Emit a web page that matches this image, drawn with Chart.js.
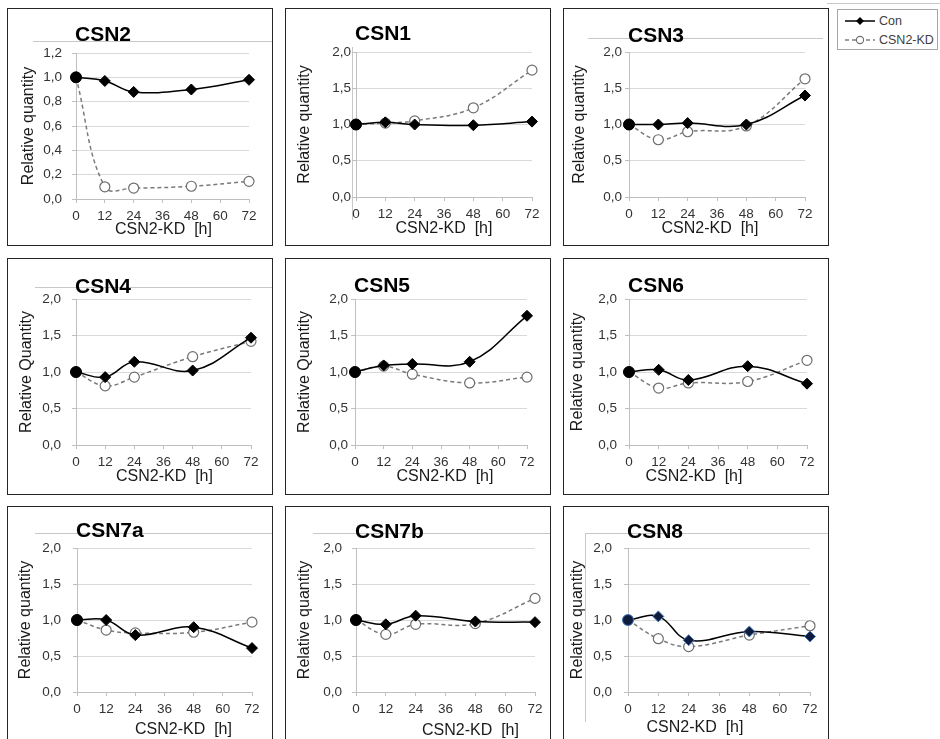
<!DOCTYPE html>
<html>
<head>
<meta charset="utf-8">
<script src="https://cdn.jsdelivr.net/npm/chart.js@4.4.1/dist/chart.umd.min.js"></script>
<style>
  html, body { margin: 0; padding: 0; background: #fff; }
  body { width: 940px; height: 739px; position: relative; overflow: hidden; font-family: "Liberation Sans", Arial, sans-serif; }
  .panel { position: absolute; border: 1px solid #262626; background: #fff; box-sizing: content-box; }
  .panel canvas { display: block; }
  .legend { position: absolute; left: 837px; top: 9px; width: 99px; height: 39px; border: 1px solid #a6a6a6; background: #fff; font-size: 12.5px; color: #404040; }
  .legend .row { position: absolute; left: 0; height: 16px; display: flex; align-items: center; }
  .legend svg { margin-left: 6px; margin-right: 3px; }
  .topline { position: absolute; left: 827px; top: 3px; width: 113px; height: 1px; background: #c8c8c8; }
</style>
</head>
<body>
<div class="topline"></div>
<div class="legend">
  <div class="row" style="top:3px">
    <svg width="32" height="12"><line x1="1" y1="6" x2="31" y2="6" stroke="#000" stroke-width="1.5"/><path d="M16 2 L20 6 L16 10 L12 6 Z" fill="#000"/></svg>
    <span>Con</span>
  </div>
  <div class="row" style="top:22px">
    <svg width="32" height="12"><line x1="1" y1="6" x2="31" y2="6" stroke="#808080" stroke-width="1.3" stroke-dasharray="4,3"/><circle cx="16" cy="6" r="3.6" fill="#fff" stroke="#6e6e6e" stroke-width="1.1"/></svg>
    <span>CSN2-KD</span>
  </div>
</div>
<script>
// time points (h) and series names
const hours = [0, 12, 24, 48, 72];
const seriesNames = ['Con', 'CSN2-KD'];
const geneNames = ['CSN2', 'CSN1', 'CSN3', 'CSN4', 'CSN5', 'CSN6', 'CSN7a', 'CSN7b', 'CSN8'];
const yTitles = ['Relative quantity', 'Relative quantity', 'Relative quantity',
                 'Relative Quantity', 'Relative Quantity', 'Relative quantity',
                 'Relative quantity', 'Relative quantity', 'Relative quantity'];
const xTitle = 'CSN2-KD  [h]';
const yMax = [1.2, 2, 2, 2, 2, 2, 2, 2, 2];
const yStep = [0.2, 0.5, 0.5, 0.5, 0.5, 0.5, 0.5, 0.5, 0.5];

const csn2Con  = [1.00, 0.97, 0.88, 0.90, 0.98];
const csn2Kd   = [1.00, 0.10, 0.09, 0.105, 0.145];
const csn1Con  = [1.00, 1.03, 1.00, 0.99, 1.04];
const csn1Kd   = [1.00, 1.02, 1.05, 1.23, 1.75];
const csn3Con  = [1.00, 1.00, 1.02, 1.00, 1.40];
const csn3Kd   = [1.00, 0.79, 0.90, 0.98, 1.63];
const csn4Con  = [1.00, 0.93, 1.14, 1.02, 1.47];
const csn4Kd   = [1.00, 0.81, 0.93, 1.21, 1.42];
const csn5Con  = [1.00, 1.09, 1.11, 1.14, 1.77];
const csn5Kd   = [1.00, 1.08, 0.97, 0.85, 0.93];
const csn6Con  = [1.00, 1.03, 0.89, 1.08, 0.84];
const csn6Kd   = [1.00, 0.78, 0.85, 0.87, 1.16];
const csn7aCon = [1.00, 1.00, 0.79, 0.90, 0.61];
const csn7aKd  = [1.00, 0.86, 0.82, 0.83, 0.97];
const csn7bCon = [1.00, 0.94, 1.06, 0.98, 0.97];
const csn7bKd  = [1.00, 0.80, 0.94, 0.95, 1.30];
const csn8Con  = [1.00, 1.05, 0.72, 0.84, 0.77];
const csn8Kd   = [1.00, 0.74, 0.63, 0.79, 0.92];

const conSeries = [csn2Con, csn1Con, csn3Con, csn4Con, csn5Con, csn6Con, csn7aCon, csn7bCon, csn8Con];
const kdSeries  = [csn2Kd, csn1Kd, csn3Kd, csn4Kd, csn5Kd, csn6Kd, csn7aKd, csn7bKd, csn8Kd];

// panel placement (page px) and plot boxes inside each panel
const colX = [7, 285, 563];
const rowY = [8, 258, 506];
const rowH = [236, 235, 240];
const panelW = 264;
const plotBoxes = [
  { l: 68, r: 241, t: 44, b: 190, gap: 14, yt: 13, tb: 32, dx: 1,   dy: 31, h: [32, 25, 264] },
  { l: 70, r: 246, t: 43, b: 188, gap: 5,  yt: 11, tb: 31, dx: 0,   dy: 32, v: [66, 38, 211] },
  { l: 65, r: 241, t: 43, b: 188, gap: 7,  yt: 8,  tb: 33, dx: -7,  dy: 32, h: [29, 24, 259] },
  { l: 68, r: 243, t: 40, b: 186, gap: 15, yt: 11, tb: 34, dx: 1,   dy: 32, h: [28, 27, 264] },
  { l: 69, r: 241, t: 40, b: 186, gap: 7,  yt: 11, tb: 33, dx: 4,   dy: 32 },
  { l: 65, r: 243, t: 40, b: 186, gap: 12, yt: 6,  tb: 33, dx: -24, dy: 32 },
  { l: 69, r: 244, t: 41, b: 185, gap: 16, yt: 10, tb: 30, dx: 19,  dy: 38, h: [26, 27, 264] },
  { l: 70, r: 249, t: 41, b: 185, gap: 14, yt: 11, tb: 31, dx: 25,  dy: 39, h: [26, 27, 264] },
  { l: 64, r: 246, t: 41, b: 185, gap: 16, yt: 6,  tb: 31, dx: -24, dy: 36, h: [26, 21, 264], v: [21, 26, 215] }
];

const FONT = '"Liberation Sans", Arial, sans-serif';

const panelDecor = {
  id: 'panelDecor',
  beforeDraw(chart, args, opts) {
    const ctx = chart.ctx;
    ctx.save();
    ctx.strokeStyle = '#c8c8c8';
    ctx.lineWidth = 1;
    if (opts.h) {
      ctx.beginPath();
      ctx.moveTo(opts.h[1], opts.h[0] + 0.5);
      ctx.lineTo(opts.h[2], opts.h[0] + 0.5);
      ctx.stroke();
    }
    if (opts.v) {
      ctx.beginPath();
      ctx.moveTo(opts.v[0] + 0.5, opts.v[1]);
      ctx.lineTo(opts.v[0] + 0.5, opts.v[2]);
      ctx.stroke();
    }
    ctx.restore();
  },
  afterDraw(chart, args, opts) {
    const { ctx, chartArea } = chart;
    ctx.save();
    ctx.fillStyle = '#000';
    ctx.font = 'bold 21px ' + FONT;
    ctx.textAlign = 'left';
    ctx.textBaseline = 'alphabetic';
    ctx.fillText(opts.title, chartArea.left - 1, opts.tb);
    ctx.font = '16px ' + FONT;
    ctx.fillStyle = '#1a1a1a';
    ctx.textAlign = 'center';
    ctx.textBaseline = 'middle';
    ctx.fillText(xTitle, (chartArea.left + chartArea.right) / 2 + opts.dx, chartArea.bottom + opts.dy);
    ctx.restore();
  }
};

function makePanel(i) {
  const box = plotBoxes[i];
  const col = i % 3, row = Math.floor(i / 3);
  const W = panelW, H = rowH[row];
  const div = document.createElement('div');
  div.className = 'panel';
  div.style.left = colX[col] + 'px';
  div.style.top = rowY[row] + 'px';
  div.style.width = W + 'px';
  div.style.height = H + 'px';
  const canvas = document.createElement('canvas');
  canvas.width = W; canvas.height = H;
  canvas.style.width = W + 'px'; canvas.style.height = H + 'px';
  div.appendChild(canvas);
  document.body.appendChild(div);

  const navy = i === 8;
  const conFill = navy ? '#0e1d3d' : '#000';
  const conEdge = navy ? '#4f7fc0' : '#000';

  new Chart(canvas, {
    type: 'line',
    data: {
      datasets: [
        {
          label: seriesNames[0],
          data: hours.map((h, k) => ({ x: h, y: conSeries[i][k] })),
          borderColor: '#000',
          borderWidth: 1.5,
          tension: 0.4,
          pointStyle: ctx => ctx.dataIndex === 0 ? 'circle' : 'rectRot',
          pointRadius: ctx => ctx.dataIndex === 0 ? 5.5 : 5.5,
          pointBackgroundColor: conFill,
          pointBorderColor: conEdge,
          pointBorderWidth: 1,
          clip: false
        },
        {
          label: seriesNames[1],
          data: hours.map((h, k) => ({ x: h, y: kdSeries[i][k] })),
          borderColor: '#7a7a7a',
          borderWidth: 1.5,
          borderDash: [4, 3],
          tension: 0.4,
          pointStyle: 'circle',
          pointRadius: 5,
          pointBackgroundColor: '#fff',
          pointBorderColor: '#6e6e6e',
          pointBorderWidth: 1.2,
          clip: false
        }
      ]
    },
    options: {
      responsive: false,
      animation: false,
      devicePixelRatio: 1,
      layout: { padding: { left: 0, top: box.t, right: W - box.r, bottom: 0 } },
      plugins: {
        legend: { display: false },
        tooltip: { enabled: false },
        panelDecor: { title: geneNames[i], tb: box.tb, dx: box.dx, dy: box.dy, h: box.h, v: box.v }
      },
      scales: {
        x: {
          type: 'linear',
          min: 0,
          max: 72,
          ticks: { stepSize: 12, autoSkip: false, maxRotation: 0, padding: 5, color: '#333', font: { family: FONT, size: 13.5 } },
          grid: { drawOnChartArea: false, tickLength: 4, color: '#bfbfbf' },
          border: { color: '#bfbfbf' },
          afterFit: s => { s.height = H - box.b; }
        },
        y: {
          min: 0,
          max: yMax[i],
          ticks: {
            stepSize: yStep[i],
            padding: box.gap - 4,
            color: '#333',
            font: { family: FONT, size: 13.5 },
            callback: v => v.toFixed(1).replace('.', ',')
          },
          grid: { color: '#d9d9d9', tickLength: 4, tickColor: '#bfbfbf' },
          border: { color: '#bfbfbf' },
          title: {
            display: true,
            text: yTitles[i],
            color: '#1a1a1a',
            font: { family: FONT, size: 16, lineHeight: 1 },
            padding: { top: box.yt, bottom: 0 }
          },
          afterFit: s => { s.width = box.l; }
        }
      }
    },
    plugins: [panelDecor]
  });
}

geneNames.forEach((g, i) => makePanel(i));
</script>
</body>
</html>
